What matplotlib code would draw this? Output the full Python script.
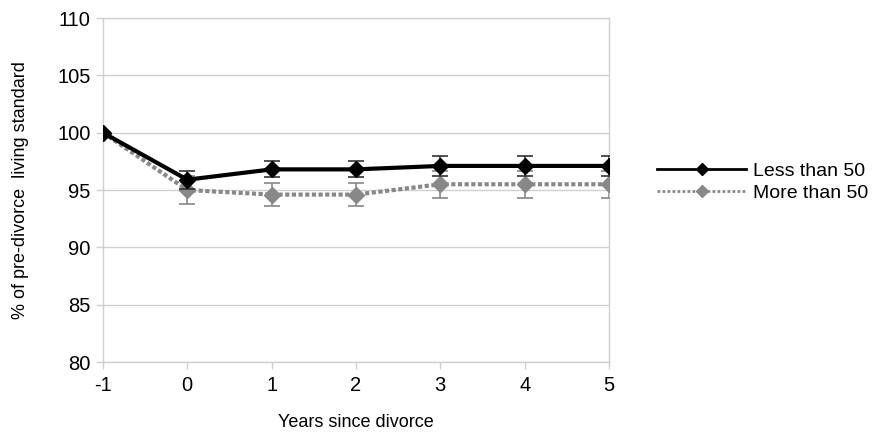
import matplotlib.pyplot as plt
from matplotlib.lines import Line2D

plt.rcParams['font.family'] = ['Liberation Sans', 'DejaVu Sans']
plt.rcParams['axes.unicode_minus'] = False

years = [-1, 0, 1, 2, 3, 4, 5]
less_than_50 = [100.0, 95.9, 96.8, 96.8, 97.1, 97.1, 97.1]
less_err = [0.0, 0.8, 0.7, 0.7, 0.9, 0.9, 0.9]
more_than_50 = [100.0, 95.0, 94.6, 94.6, 95.5, 95.5, 95.5]
more_err = [0.0, 1.2, 1.0, 1.0, 1.2, 1.2, 1.2]

fig = plt.figure(figsize=(8.77, 4.37), dpi=100)
ax = fig.add_axes([0.1174, 0.1716, 0.5770, 0.7872])

grid_col = '#d0d0d0'
gray = '#888888'

# more than 50 drawn first so the black line sits on top
ax.errorbar(years, more_than_50, yerr=more_err, color=gray, ls=(0, (1, 0.6)), lw=3,
            marker='D', ms=8, mfc=gray, mec=gray, ecolor=gray, elinewidth=1.2,
            capsize=6, capthick=1.2, zorder=3)
ax.errorbar(years, less_than_50, yerr=less_err, color='black', ls='-', lw=3,
            marker='D', ms=8, mfc='black', mec='black', ecolor='#333333', elinewidth=1.2,
            capsize=6, capthick=1.2, zorder=4)

ax.set_xlim(-1, 5)
ax.set_ylim(80, 110)
ax.set_xticks(years)
ax.set_yticks(range(80, 111, 5))
ax.yaxis.grid(True, color=grid_col, lw=1)
ax.set_axisbelow(True)
for s in ax.spines.values():
    s.set_color(grid_col)
    s.set_linewidth(1)
ax.tick_params(axis='both', colors=grid_col, labelcolor='black', labelsize=14.5, length=5, width=1)
ax.tick_params(axis='x', pad=5)
ax.tick_params(axis='y', pad=4)

ax.set_xlabel('Years since divorce', fontsize=13, labelpad=14)
ax.set_ylabel('% of pre-divorce  living standard', fontsize=13, labelpad=20)

handles = [
    Line2D([], [], color='black', lw=2, marker='D', ms=6, mfc='black', mec='black'),
    Line2D([], [], color=gray, lw=2, ls=(0, (1, 0.8)), marker='D', ms=6, mfc=gray, mec=gray),
]
fig.legend(handles, ['Less than 50', 'More than 50'], loc='center left',
           bbox_to_anchor=(0.749, 0.583), frameon=False, fontsize=14,
           handlelength=4.6, handletextpad=0.36, labelspacing=0.2,
           borderaxespad=0, borderpad=0)

fig.savefig('out.png', dpi=100)
